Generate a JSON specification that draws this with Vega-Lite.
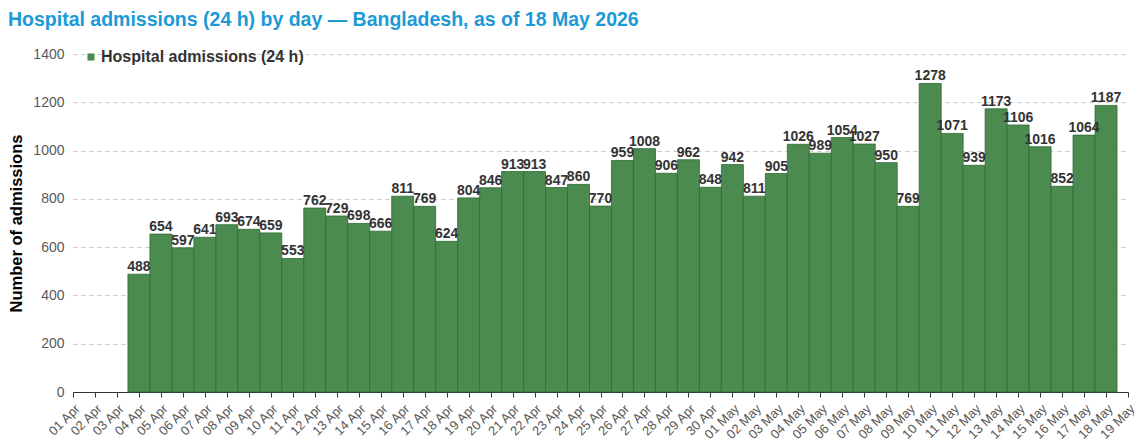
{
  "$schema": "https://vega.github.io/schema/vega-lite/v6.json",
  "autosize": {"type": "none"},
  "width": 1055,
  "height": 338,
  "padding": {"left": 73, "top": 54, "right": 6, "bottom": 51},
  "background": "white",
  "title": {
    "text": "Hospital admissions (24 h) by day — Bangladesh, as of 18 May 2026",
    "anchor": "start",
    "frame": "group",
    "dx": -65,
    "offset": 17,
    "font": "Liberation Sans",
    "fontSize": 19.5,
    "fontWeight": "bold",
    "color": "#1b9ad6"
  },
  "config": {
    "view": {"stroke": null},
    "font": "Liberation Sans"
  },
  "data": {
    "values": [
      {"day": "04 Apr", "admissions": 488},
      {"day": "05 Apr", "admissions": 654},
      {"day": "06 Apr", "admissions": 597},
      {"day": "07 Apr", "admissions": 641},
      {"day": "08 Apr", "admissions": 693},
      {"day": "09 Apr", "admissions": 674},
      {"day": "10 Apr", "admissions": 659},
      {"day": "11 Apr", "admissions": 553},
      {"day": "12 Apr", "admissions": 762},
      {"day": "13 Apr", "admissions": 729},
      {"day": "14 Apr", "admissions": 698},
      {"day": "15 Apr", "admissions": 666},
      {"day": "16 Apr", "admissions": 811},
      {"day": "17 Apr", "admissions": 769},
      {"day": "18 Apr", "admissions": 624},
      {"day": "19 Apr", "admissions": 804},
      {"day": "20 Apr", "admissions": 846},
      {"day": "21 Apr", "admissions": 913},
      {"day": "22 Apr", "admissions": 913},
      {"day": "23 Apr", "admissions": 847},
      {"day": "24 Apr", "admissions": 860},
      {"day": "25 Apr", "admissions": 770},
      {"day": "26 Apr", "admissions": 959},
      {"day": "27 Apr", "admissions": 1008},
      {"day": "28 Apr", "admissions": 906},
      {"day": "29 Apr", "admissions": 962},
      {"day": "30 Apr", "admissions": 848},
      {"day": "01 May", "admissions": 942},
      {"day": "02 May", "admissions": 811},
      {"day": "03 May", "admissions": 905},
      {"day": "04 May", "admissions": 1026},
      {"day": "05 May", "admissions": 989},
      {"day": "06 May", "admissions": 1054},
      {"day": "07 May", "admissions": 1027},
      {"day": "08 May", "admissions": 950},
      {"day": "09 May", "admissions": 769},
      {"day": "10 May", "admissions": 1278},
      {"day": "11 May", "admissions": 1071},
      {"day": "12 May", "admissions": 939},
      {"day": "13 May", "admissions": 1173},
      {"day": "14 May", "admissions": 1106},
      {"day": "15 May", "admissions": 1016},
      {"day": "16 May", "admissions": 852},
      {"day": "17 May", "admissions": 1064},
      {"day": "18 May", "admissions": 1187}
    ]
  },
  "encoding": {
    "x": {
      "field": "day",
      "type": "ordinal",
      "sort": null,
      "scale": {
        "type": "point",
        "padding": 0,
        "domain": ["01 Apr","02 Apr","03 Apr","04 Apr","05 Apr","06 Apr","07 Apr","08 Apr","09 Apr","10 Apr","11 Apr","12 Apr","13 Apr","14 Apr","15 Apr","16 Apr","17 Apr","18 Apr","19 Apr","20 Apr","21 Apr","22 Apr","23 Apr","24 Apr","25 Apr","26 Apr","27 Apr","28 Apr","29 Apr","30 Apr","01 May","02 May","03 May","04 May","05 May","06 May","07 May","08 May","09 May","10 May","11 May","12 May","13 May","14 May","15 May","16 May","17 May","18 May","19 May"]
      },
      "axis": {
        "title": null,
        "labelAngle": -45,
        "labelAlign": "right",
        "labelBaseline": "top",
        "labelFontSize": 13,
        "labelColor": "#595959",
        "labelPadding": 5,
        "labelBound": false,
        "domainColor": "#333333",
        "tickColor": "#333333",
        "tickSize": 5,
        "grid": false,
        "labelOverlap": false
      }
    },
    "y": {
      "field": "admissions",
      "type": "quantitative",
      "scale": {"domain": [0, 1400]},
      "axis": {
        "title": "Number of admissions",
        "titleFontSize": 16.5,
        "titleFontWeight": "bold",
        "titleColor": "#000000",
        "titlePadding": 8,
        "format": "d",
        "values": [0, 200, 400, 600, 800, 1000, 1200, 1400],
        "labelFontSize": 14,
        "labelColor": "#595959",
        "labelPadding": 9,
        "domain": false,
        "ticks": false,
        "grid": true,
        "gridColor": "#c8c8c8",
        "gridDash": [4, 4],
        "gridWidth": 1
      }
    }
  },
  "layer": [
    {
      "mark": {"type": "bar", "width": 22, "stroke": "#2f6b33", "strokeWidth": 0.8},
      "encoding": {
        "color": {
          "datum": "Hospital admissions (24 h)",
          "scale": {"range": ["#4b8b4f"]},
          "legend": {
            "title": null,
            "orient": "none",
            "legendX": 10,
            "legendY": -5,
            "symbolType": "square",
            "symbolSize": 50,
            "symbolStrokeWidth": 0,
            "labelFontSize": 16,
            "labelFontWeight": "bold",
            "labelColor": "#333333",
            "labelOffset": 2,
            "labelLimit": 400
          }
        }
      }
    },
    {
      "mark": {"type": "text", "baseline": "bottom", "dy": 0, "fontSize": 14, "fontWeight": "bold", "color": "#333333"},
      "encoding": {
        "text": {"field": "admissions", "type": "quantitative"}
      }
    }
  ]
}
